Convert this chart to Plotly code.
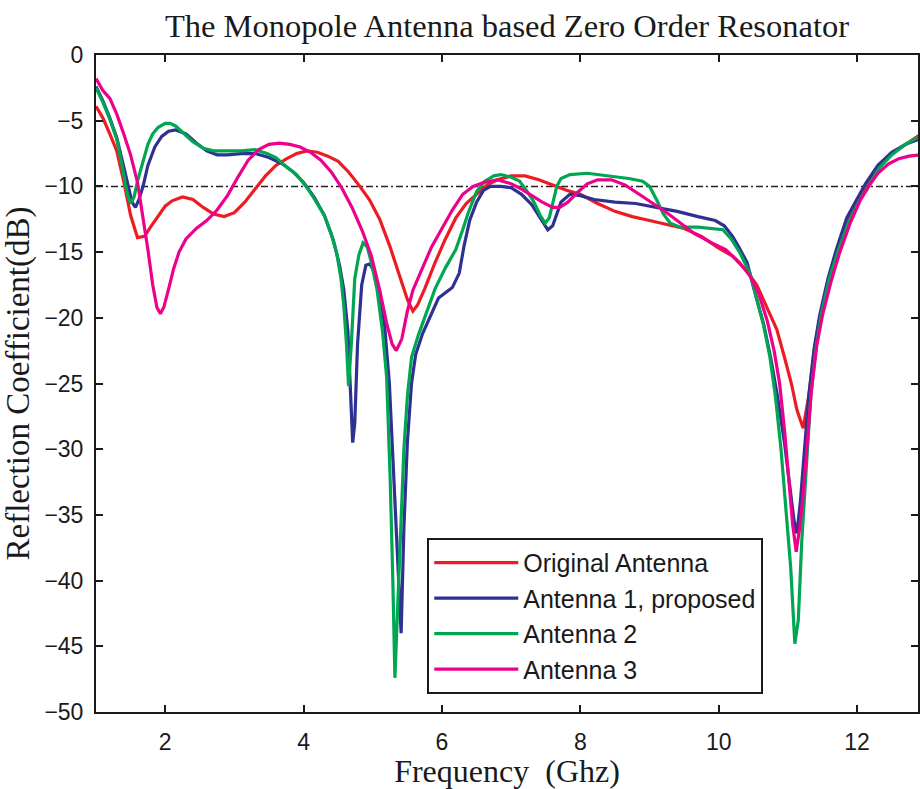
import plotly.graph_objects as go

# ---------------- data ----------------
series_names = ["Original Antenna", "Antenna 1, proposed", "Antenna 2", "Antenna 3"]
series_colors = ["#ED1C24", "#2E3192", "#00A651", "#EC008C"]

freq_orig = [1.0, 1.1, 1.2, 1.3, 1.4, 1.5, 1.6, 1.7, 1.8, 1.9, 2.0, 2.1, 2.25, 2.4, 2.55, 2.7, 2.85,
             3.0, 3.15, 3.3, 3.45, 3.6, 3.75, 3.9, 4.05, 4.2, 4.35, 4.5, 4.65, 4.8, 4.95, 5.1, 5.25,
             5.4, 5.5, 5.58, 5.65, 5.75, 5.9, 6.05, 6.2, 6.35, 6.5, 6.65, 6.8, 7.0, 7.2, 7.4, 7.6,
             7.8, 8.0, 8.25, 8.5, 8.75, 9.0, 9.25, 9.5, 9.75, 10.0, 10.2, 10.4, 10.55, 10.7, 10.84,
             10.95, 11.05, 11.13, 11.22, 11.3, 11.38, 11.46, 11.58, 11.7, 11.87, 12.0, 12.14, 12.3,
             12.5, 12.7, 12.9]
s11_orig = [-3.9, -4.8, -6.0, -7.3, -9.6, -12.2, -13.9, -13.8, -13.0, -12.2, -11.5, -11.1, -10.8,
            -11.0, -11.6, -12.1, -12.3, -12.0, -11.2, -10.2, -9.2, -8.4, -7.9, -7.5, -7.3, -7.4,
            -7.7, -8.1, -8.9, -9.9, -11.0, -12.5, -14.6, -17.0, -18.6, -19.5, -19.0, -17.8, -15.8,
            -14.0, -12.4, -11.3, -10.6, -9.9, -9.5, -9.2, -9.2, -9.5, -9.9, -10.3, -10.6, -11.3,
            -11.9, -12.3, -12.6, -12.9, -13.2, -13.8, -14.7, -15.3, -16.4, -17.5, -19.2, -20.9,
            -23.0, -25.0, -27.0, -28.4, -26.0, -22.5, -20.0, -17.2, -15.0, -12.4, -11.0, -10.0,
            -8.6, -7.5, -6.8, -6.1]

freq_ant1 = [1.0, 1.1, 1.2, 1.3, 1.4, 1.47, 1.52, 1.57, 1.62, 1.68, 1.75, 1.85, 1.95, 2.05, 2.15,
             2.3, 2.45, 2.6, 2.75, 2.9, 3.1, 3.3, 3.5, 3.7, 3.85, 4.0, 4.15, 4.3, 4.43, 4.52, 4.58,
             4.64, 4.68, 4.71, 4.74, 4.78, 4.84, 4.9, 4.96, 5.02, 5.1, 5.17, 5.24, 5.3, 5.36, 5.41,
             5.45, 5.5, 5.56, 5.62, 5.72, 5.85, 5.95, 6.05, 6.15, 6.25, 6.32, 6.4, 6.5, 6.6, 6.7,
             6.85, 7.0, 7.15, 7.3, 7.42, 7.53, 7.6, 7.66, 7.72, 7.85, 8.0, 8.2, 8.5, 8.8, 9.1, 9.4,
             9.7, 9.95, 10.08, 10.2, 10.3, 10.41, 10.55, 10.65, 10.75, 10.85, 10.95, 11.03, 11.09,
             11.13, 11.18, 11.24, 11.3, 11.38, 11.46, 11.58, 11.7, 11.85, 12.0, 12.12, 12.3, 12.5,
             12.7, 12.9]
s11_ant1 = [-2.4, -3.5, -4.8, -6.3, -8.5, -10.2, -11.2, -11.6, -11.0, -10.0, -8.4, -7.0, -6.2,
            -5.8, -5.7, -6.0, -6.7, -7.3, -7.6, -7.6, -7.5, -7.5, -7.8, -8.3, -8.9, -9.7, -10.8,
            -12.2, -14.1, -16.0, -17.8, -21.0, -26.0, -29.5, -28.0, -22.0, -17.5, -16.0, -15.9,
            -16.5, -18.0, -20.5, -25.0, -32.0, -38.5, -44.0, -36.0, -29.5, -25.0, -22.8, -21.2,
            -19.6, -18.5, -18.1, -17.7, -16.6, -14.5, -12.6, -11.2, -10.3, -10.0, -10.0, -10.1,
            -10.6, -11.4, -12.4, -13.3, -13.0, -12.0, -11.2, -10.6, -10.7, -11.0, -11.2, -11.3,
            -11.6, -11.9, -12.3, -12.6, -13.0, -13.8, -14.7, -15.8, -18.6, -20.5, -23.0, -26.0,
            -29.5, -33.0, -35.5, -36.4, -34.0, -30.0, -26.0, -22.3, -19.8, -17.0, -14.8, -12.4,
            -10.9, -9.8, -8.4, -7.4, -6.8, -6.4]

freq_ant2 = [1.0, 1.1, 1.2, 1.3, 1.38, 1.45, 1.5, 1.55, 1.6, 1.68, 1.75, 1.82, 1.9, 2.0, 2.07,
             2.15, 2.25, 2.4, 2.55, 2.7, 2.9, 3.1, 3.3, 3.47, 3.6, 3.75, 3.9, 4.05, 4.15, 4.3, 4.4,
             4.48, 4.54, 4.58, 4.62, 4.65, 4.69, 4.74, 4.8, 4.86, 4.92, 4.98, 5.06, 5.14, 5.2,
             5.25, 5.29, 5.32, 5.36, 5.4, 5.45, 5.5, 5.56, 5.66, 5.78, 5.9, 6.05, 6.2, 6.3, 6.38,
             6.5, 6.62, 6.75, 6.85, 7.0, 7.12, 7.22, 7.32, 7.42, 7.49, 7.55, 7.6, 7.66, 7.72, 7.85,
             8.1, 8.4, 8.7, 8.9, 9.0, 9.1, 9.2, 9.3, 9.44, 9.7, 9.9, 10.06, 10.18, 10.3, 10.45,
             10.55, 10.65, 10.74, 10.82, 10.9, 10.97, 11.04, 11.1, 11.15, 11.2, 11.27, 11.33,
             11.4, 11.48, 11.6, 11.72, 11.88, 12.02, 12.16, 12.32, 12.5, 12.7, 12.9]
s11_ant2 = [-2.5, -3.6, -4.9, -6.4, -8.5, -10.5, -11.3, -10.8, -9.6, -8.0, -6.8, -6.0, -5.5,
            -5.2, -5.2, -5.4, -5.9, -6.6, -7.1, -7.3, -7.3, -7.3, -7.2, -7.5, -7.8, -8.5, -9.1,
            -10.1, -10.9, -12.2, -13.6, -15.1, -17.0, -19.0, -22.0, -25.2, -22.0, -17.0, -15.2,
            -14.3, -14.6, -15.8, -17.8, -21.0, -24.5, -32.0, -40.0, -47.4, -42.0, -36.0, -30.0,
            -26.0, -23.0, -21.3, -19.5, -17.8, -16.2, -14.8, -13.3, -12.0, -10.4, -9.6, -9.2,
            -9.1, -9.3, -9.6, -10.3, -11.1, -12.2, -12.8, -12.4, -11.2, -10.0, -9.4, -9.1, -9.0,
            -9.2, -9.4, -9.6, -10.0, -11.0, -12.1, -12.8, -13.1, -13.1, -13.2, -13.3, -14.0,
            -15.0, -16.6, -18.5, -20.6, -23.0, -26.0, -30.0, -34.5, -39.0, -44.8, -43.0, -37.0,
            -31.0, -26.0, -22.5, -19.8, -17.0, -15.0, -12.7, -11.2, -10.0, -8.6, -7.6, -6.8, -6.2]

freq_ant3 = [1.0, 1.1, 1.2, 1.3, 1.4, 1.5, 1.6, 1.68, 1.75, 1.82, 1.88, 1.93, 1.98, 2.05, 2.12,
             2.2, 2.3, 2.45, 2.6, 2.75, 2.9, 3.05, 3.2, 3.35, 3.5, 3.65, 3.8, 3.95, 4.1, 4.25, 4.4,
             4.55, 4.7, 4.85, 4.98, 5.1, 5.2, 5.28, 5.34, 5.42, 5.5, 5.58, 5.7, 5.85, 6.0, 6.15,
             6.3, 6.45, 6.6, 6.8, 7.0, 7.15, 7.3, 7.45, 7.6, 7.7, 7.82, 7.95, 8.1, 8.25, 8.45,
             8.65, 8.85, 9.05, 9.25, 9.45, 9.65, 9.9, 10.1, 10.3, 10.45, 10.58, 10.7, 10.8, 10.88,
             10.95, 11.02, 11.07, 11.12, 11.17, 11.22, 11.28, 11.34, 11.42, 11.5, 11.62, 11.75,
             11.9, 12.05, 12.18, 12.3, 12.45, 12.6, 12.75, 12.9]
s11_ant3 = [-1.8, -2.7, -3.3, -4.5, -6.0, -7.6, -9.7, -12.3, -14.8, -17.5, -19.2, -19.7, -19.2,
            -17.8, -16.3, -15.0, -14.0, -13.2, -12.6, -11.8, -10.7, -9.3, -8.0, -7.2, -6.8, -6.7,
            -6.8, -7.0, -7.4, -8.0, -8.9, -10.1, -11.6, -13.4, -15.3, -17.9, -20.4, -22.0, -22.5,
            -21.6, -19.5, -17.9, -16.4, -14.6, -13.2, -11.8, -10.6, -10.0, -9.7, -9.5, -9.8,
            -10.2, -10.7, -11.2, -11.6, -11.6, -11.2, -10.5, -9.8, -9.5, -9.5, -9.9, -10.6,
            -11.3, -12.0, -12.8, -13.6, -14.3, -14.8, -15.8, -16.8, -18.2, -20.2, -22.5, -25.0,
            -28.5, -32.5, -35.8, -37.8, -36.0, -33.5, -29.5, -25.5, -22.0, -19.8, -17.3, -15.0,
            -12.8, -11.0, -9.9, -9.0, -8.3, -7.9, -7.7, -7.6]

threshold_db = -10
x_range = [1, 12.88]
y_range = [-50, 0]
x_ticks = [2, 4, 6, 8, 10, 12]
y_ticks = [0, -5, -10, -15, -20, -25, -30, -35, -40, -45, -50]

title_text = "The Monopole Antenna based Zero Order Resonator"
x_title = "Frequency\u00a0 (Ghz)"
y_title = "Reflection Coefficient(dB)"

# ---------------- figure ----------------
fig = go.Figure()

# -10 dB reference line (dash-dot)
fig.add_trace(go.Scatter(
    x=x_range, y=[threshold_db, threshold_db], mode="lines",
    line=dict(color="#222222", width=1.5, dash="7px,3px,2px,3px"),
    showlegend=False, hoverinfo="skip"))

all_x = [freq_orig, freq_ant1, freq_ant2, freq_ant3]
all_y = [s11_orig, s11_ant1, s11_ant2, s11_ant3]
for name, color, xs, ys in zip(series_names, series_colors, all_x, all_y):
    fig.add_trace(go.Scatter(x=xs, y=ys, mode="lines", name=name,
                             line=dict(color=color, width=3.2)))

axis_common = dict(
    showgrid=False, zeroline=False, showline=True, linecolor="#1a1a1a", linewidth=2,
    mirror="ticks", ticks="inside", ticklen=7, tickwidth=2, tickcolor="#1a1a1a",
    tickfont=dict(family="Liberation Sans, Arial, sans-serif", size=23, color="#1a1a1a"),
)

fig.update_layout(
    width=920, height=789,
    paper_bgcolor="white", plot_bgcolor="white",
    margin=dict(l=96, r=0, t=55, b=77),
    title=dict(text=title_text, x=0.5, xanchor="center", xref="paper",
               y=0.968, yanchor="middle", yref="container",
               font=dict(family="Liberation Serif, Times New Roman, serif", size=32.5, color="#1a1a1a")),
    xaxis=dict(range=x_range, tickvals=x_ticks, ticklabelstandoff=8,
               title=dict(text=x_title, standoff=6,
                          font=dict(family="Liberation Serif, Times New Roman, serif", size=32, color="#1a1a1a")),
               **axis_common),
    yaxis=dict(range=y_range, tickvals=y_ticks, ticklabelstandoff=6,
               title=dict(text=y_title, standoff=10,
                          font=dict(family="Liberation Serif, Times New Roman, serif", size=33, color="#1a1a1a")),
               **axis_common),
    legend=dict(x=0.403, y=0.265, xanchor="left", yanchor="top",
                bgcolor="white", bordercolor="#1a1a1a", borderwidth=2,
                font=dict(family="Liberation Sans, Arial, sans-serif", size=25, color="#1a1a1a"),
                itemwidth=84, tracegroupgap=4),
    showlegend=True,
)

fig.write_html("out.html")
